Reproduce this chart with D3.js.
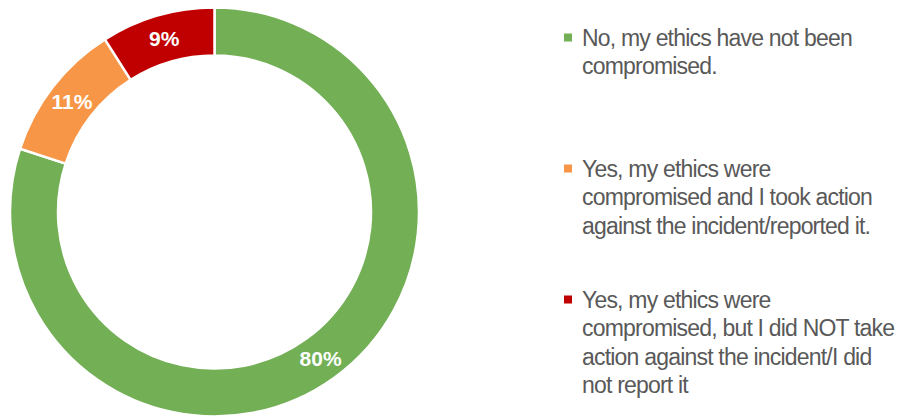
<!DOCTYPE html>
<html>
<head>
<meta charset="utf-8">
<script src="https://cdn.jsdelivr.net/npm/d3@7"></script>
<style>
  html, body { margin: 0; padding: 0; background: #fff; }
  svg { display: block; }
</style>
</head>
<body>
<svg id="chart" width="910" height="419"></svg>
<script>
// Survey responses: has the respondent's ethics been compromised?
const categories = [
  "No, my ethics have not been compromised.",
  "Yes, my ethics were compromised and I took action against the incident/reported it.",
  "Yes, my ethics were compromised, but I did NOT take action against the incident/I did not report it"
];
const values = [80, 11, 9];
const colors = ["#72AF55", "#F79646", "#C00000"];
// Legend text broken into lines as laid out beside the ring
const legendLines = [
  ["No, my ethics have not been", "compromised."],
  ["Yes, my ethics were", "compromised and I took action", "against the incident/reported it."],
  ["Yes, my ethics were", "compromised, but I did NOT take", "action against the incident/I did", "not report it"]
];

const svg = d3.select("#chart");
const cx = 214.5, cy = 212, outerR = 204.5, innerR = 156.5;

const data = categories.map((c, i) => ({ name: c, value: values[i], color: colors[i] }));

const pie = d3.pie().value(d => d.value).sort(null).startAngle(0).endAngle(2 * Math.PI);
const arc = d3.arc().innerRadius(innerR).outerRadius(outerR);
const labelArc = d3.arc().innerRadius((innerR + outerR) / 2).outerRadius((innerR + outerR) / 2);

const g = svg.append("g").attr("transform", `translate(${cx},${cy})`);
const arcs = pie(data);

g.selectAll("path.slice")
  .data(arcs)
  .join("path")
  .attr("class", "slice")
  .attr("d", arc)
  .attr("fill", d => d.data.color)
  .attr("stroke", "#fff")
  .attr("stroke-width", 2.5);

g.selectAll("text.pct")
  .data(arcs)
  .join("text")
  .attr("class", "pct")
  .attr("transform", d => `translate(${labelArc.centroid(d)})`)
  .attr("text-anchor", "middle")
  .attr("dy", "0.36em")
  .attr("fill", "#fff")
  .attr("font-family", "Arial, 'Liberation Sans', sans-serif")
  .attr("font-weight", "bold")
  .attr("font-size", 21)
  .text(d => d.data.value + "%");

// Legend
const legend = svg.append("g").attr("transform", "translate(563,0)");
const itemTop = [46, 177, 308];
const lineGap = 28.3;

const items = legend.selectAll("g.item")
  .data(data)
  .join("g")
  .attr("class", "item")
  .attr("transform", (d, i) => `translate(0,${itemTop[i]})`);

items.append("rect")
  .attr("x", 1)
  .attr("y", -12.5)
  .attr("width", 8)
  .attr("height", 8)
  .attr("fill", d => d.color);

items.each(function(d, i) {
  const t = d3.select(this).append("text")
    .attr("font-family", "Arial, 'Liberation Sans', sans-serif")
    .attr("font-size", 23)
    .attr("letter-spacing", "-0.8px")
    .attr("fill", "#595959");
  legendLines[i].forEach((line, j) => {
    t.append("tspan").attr("x", 19).attr("y", j * lineGap).text(line);
  });
});
</script>
</body>
</html>
